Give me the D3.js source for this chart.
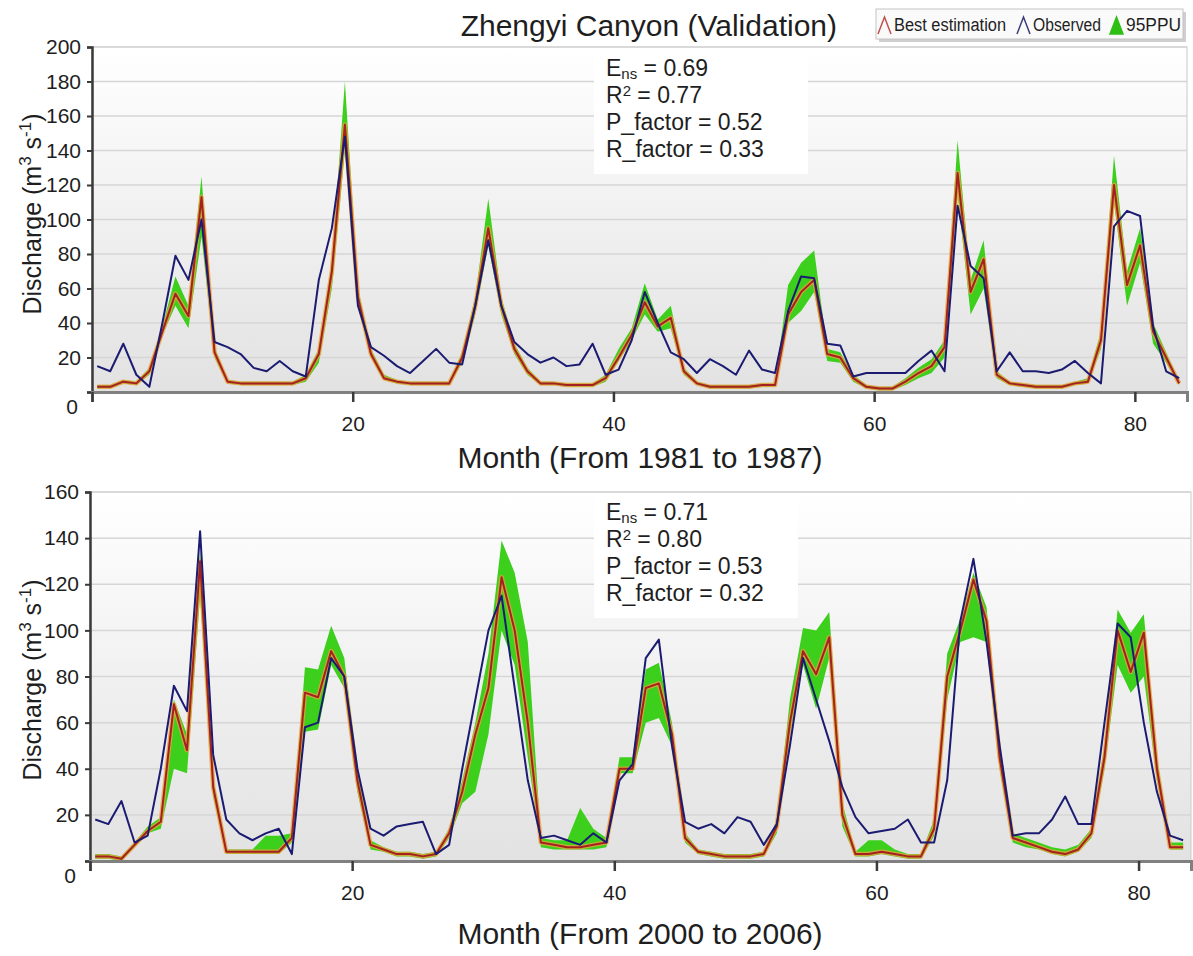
<!DOCTYPE html>
<html>
<head>
<meta charset="utf-8">
<script src="https://cdn.jsdelivr.net/npm/d3@7/dist/d3.min.js"></script>
<style>
  body { margin: 0; background: #fff; }
  svg text { font-family: "Liberation Sans", Arial, sans-serif; fill: #1e1e1e; }
</style>
</head>
<body>
<svg id="chart" width="1193" height="956"></svg>
<script>
// ---- data (84 months per period) ----
var xTicks = [0, 20, 40, 60, 80];

var obs1981 = [15,12,28,10,3,40,79,65,100,29, 26,22,14,12,18,12,9,65,95,148,
  50,26,21,15,11,18,25,17,16,50, 88,50,29,22,17,20,15,16,28,10,
  13,30,58,40,23,19,11,19,15,10, 24,13,11,47,67,66,28,27,9,11,
  11,11,11,18,24,12,108,73,66,12, 23,12,12,11,13,18,11,5,96,105,
  102,38,12,8];
var best1981 = [3,3,6,5,12,35,57,44,113,23, 6,5,5,5,5,5,8,22,70,155,
  55,22,8,6,5,5,5,5,20,50, 95,50,25,12,5,5,4,4,4,8,
  20,33,52,38,43,12,5,3,3,3, 3,4,4,45,58,65,22,20,8,3,
  2,2,6,11,15,26,127,58,77,10, 5,4,3,3,3,5,6,30,120,62,
  85,35,20,5];
var low1981 = [2,2,5,4,10,33,50,37,90,20, 5,4,4,4,4,4,6,17,60,140,
  50,20,7,5,4,4,4,4,17,45, 85,45,22,10,4,4,3,3,3,6,
  18,30,45,35,37,10,4,2,2,2, 2,3,3,40,47,58,18,17,6,2,
  1,1,4,8,11,20,115,45,60,8, 4,3,2,2,2,4,5,25,110,50,
  75,28,17,4];
var high1981 = [4,4,7,6,14,38,67,50,125,26, 7,6,6,6,6,6,10,25,75,180,
  60,25,10,7,6,6,6,6,23,55, 112,55,28,14,6,6,5,5,5,10,
  25,37,63,42,50,14,6,4,4,4, 4,5,5,62,75,82,25,23,10,4,
  3,3,8,14,19,30,146,65,88,12, 6,5,4,4,4,6,8,35,137,70,
  95,40,23,6];
var stats1981 = ["0.69", "0.77", "0.52", "0.33"];

var obs2000 = [18,16,26,8,11,40,76,65,143,46, 18,12,9,12,14,3,58,60,88,80,
  40,14,11,15,16,17,3,7,40,70, 100,115,75,35,10,11,9,7,12,8,
  35,42,88,96,50,17,14,16,12,19, 17,7,16,50,88,70,52,32,19,12,
  13,14,18,8,8,35,104,131,95,50, 11,12,12,18,28,16,16,60,103,97,
  60,30,11,9];
var best2000 = [2,2,1,7,13,17,68,48,130,32, 4,4,4,4,4,10,73,71,91,80,
  35,7,5,3,3,2,3,12,30,55, 75,123,100,60,8,7,6,6,7,8,
  40,40,75,77,55,10,4,3,2,2, 2,3,15,60,91,81,97,20,3,3,
  4,3,2,2,14,80,100,122,104,45, 10,8,6,4,3,5,12,45,100,82,
  99,40,6,6];
var low2000 = [1,1,0,6,12,14,40,38,115,28, 3,3,3,3,3,8,56,57,85,75,
  30,5,4,2,2,1,2,10,25,30, 55,100,85,45,6,5,5,5,5,6,
  38,38,60,62,50,8,3,2,1,1, 1,2,12,55,85,66,88,15,2,2,
  3,2,1,1,11,70,95,97,95,40, 8,6,5,3,2,4,10,40,85,73,
  80,35,5,5];
var high2000 = [3,3,2,8,15,19,70,55,135,36, 5,5,5,11,11,12,84,83,102,88,
  40,9,6,4,4,3,4,14,35,60, 90,139,125,95,10,9,9,23,14,10,
  45,45,83,86,60,12,5,4,3,3, 3,4,18,70,101,100,108,25,4,9,
  9,5,3,3,18,90,105,125,110,50, 12,10,8,6,5,7,14,50,109,99,
  107,45,8,8];
var stats2000 = ["0.71", "0.80", "0.53", "0.32"];

var svg = d3.select("#chart");

// plot background gradient
var defs = svg.append("defs");
var grad = defs.append("linearGradient").attr("id", "bg")
    .attr("x1", 0).attr("y1", 0).attr("x2", 0).attr("y2", 1);
grad.append("stop").attr("offset", "0%").attr("stop-color", "#ffffff");
grad.append("stop").attr("offset", "100%").attr("stop-color", "#e2e2e2");

function drawPanel(p) {
  var x = d3.scaleLinear().domain([0, 84]).range([p.left, p.right]);
  var y = d3.scaleLinear().domain([0, p.yMax]).range([p.bottom, p.top]);
  var g = svg.append("g");

  g.append("rect")
      .attr("x", p.left).attr("y", p.top)
      .attr("width", p.right - p.left).attr("height", p.bottom - p.top)
      .attr("fill", "url(#bg)")
      .attr("stroke", "#c9c9c9");

  // horizontal grid
  g.selectAll(".grid")
    .data(p.yTicks.filter(function(v) { return v > 0; }))
    .enter().append("line")
      .attr("x1", p.left).attr("x2", p.right)
      .attr("y1", function(d) { return y(d); })
      .attr("y2", function(d) { return y(d); })
      .attr("stroke", "#d6d6d6").attr("stroke-width", 1.5);

  // stats box
  g.append("rect")
      .attr("x", p.box[0]).attr("y", p.box[1])
      .attr("width", p.box[2]).attr("height", p.box[3])
      .attr("fill", "#fff");

  // 95PPU band
  var area = d3.area()
      .x(function(d, i) { return x(i + 0.4); })
      .y0(function(d, i) { return y(p.low[i]); })
      .y1(function(d, i) { return y(p.high[i]); });
  g.append("path").datum(p.best).attr("d", area)
      .attr("fill", "#3ccf1c");

  var line = d3.line()
      .x(function(d, i) { return x(i + 0.4); })
      .y(function(d) { return y(d); });

  // best estimation: orange halo + red line
  g.append("path").datum(p.best).attr("d", line)
      .attr("fill", "none").attr("stroke", "#e9a33c")
      .attr("stroke-width", 4.5).attr("stroke-opacity", 0.8)
      .attr("stroke-linejoin", "round");
  g.append("path").datum(p.best).attr("d", line)
      .attr("fill", "none").attr("stroke", "#a52020")
      .attr("stroke-width", 2).attr("stroke-linejoin", "round");
  // observed
  g.append("path").datum(p.obs).attr("d", line)
      .attr("fill", "none").attr("stroke", "#1b1b72")
      .attr("stroke-width", 2).attr("stroke-linejoin", "round");

  // axes
  var ya = g.append("g")
      .attr("transform", "translate(" + p.left + ",0)")
      .call(d3.axisLeft(y).tickValues(p.yTicks).tickSize(5).tickPadding(6));
  ya.select(".domain").attr("stroke", "#3a3a3a").attr("stroke-width", 2.5);
  ya.selectAll(".tick line").attr("stroke", "#3a3a3a").attr("stroke-width", 2);
  ya.selectAll("text").style("font-size", "21px").attr("fill", "#1e1e1e");
  ya.selectAll(".tick").filter(function(d) { return d === 0; })
      .select("text").attr("dy", "1.0em").attr("x", -14);

  var xa = g.append("g")
      .attr("transform", "translate(0," + p.bottom + ")")
      .call(d3.axisBottom(x).tickValues(xTicks).tickSize(10).tickPadding(14)
        .tickFormat(function(d) { return d === 0 ? "" : d; }));
  xa.select(".domain").attr("stroke", "#808080").attr("stroke-width", 3);
  xa.selectAll(".tick line").attr("stroke", "#3a3a3a").attr("stroke-width", 2.5);
  xa.selectAll("text").style("font-size", "21px").attr("fill", "#1e1e1e");

  // axis titles
  g.append("text")
      .attr("x", 640).attr("y", p.xLabelY)
      .attr("text-anchor", "middle").style("font-size", "30px")
      .text(p.xLabel);

  var yl = g.append("text")
      .attr("transform", "translate(41," + p.yLabelMid + ") rotate(-90)")
      .attr("text-anchor", "middle").style("font-size", "25px");
  yl.append("tspan").text("Discharge (m");
  yl.append("tspan").attr("dy", -10).style("font-size", "17px").text("3");
  yl.append("tspan").attr("dy", 10).text(" s");
  yl.append("tspan").attr("dy", -10).style("font-size", "17px").text("-1");
  yl.append("tspan").attr("dy", 10).text(")");

  // stats text
  var sx = p.box[0] + 12, sy = p.box[1] + 26, lh = 27;
  var t1 = g.append("text").attr("x", sx).attr("y", sy).style("font-size", "23px");
  t1.append("tspan").text("E");
  t1.append("tspan").attr("dy", 3).style("font-size", "15px").text("ns");
  t1.append("tspan").attr("dy", -3).text(" = " + p.stats[0]);
  var t2 = g.append("text").attr("x", sx).attr("y", sy + lh).style("font-size", "23px");
  t2.append("tspan").text("R");
  t2.append("tspan").attr("dy", -7).style("font-size", "15px").text("2");
  t2.append("tspan").attr("dy", 7).text(" = " + p.stats[1]);
  g.append("text").attr("x", sx).attr("y", sy + 2 * lh).style("font-size", "23px")
      .text("P_factor = " + p.stats[2]);
  g.append("text").attr("x", sx).attr("y", sy + 3 * lh).style("font-size", "23px")
      .text("R_factor = " + p.stats[3]);
}

drawPanel({
  left: 92, right: 1187, top: 47, bottom: 392, yMax: 200,
  yTicks: d3.range(0, 201, 20),
  obs: obs1981, best: best1981, low: low1981, high: high1981,
  stats: stats1981, box: [594, 50, 214, 124],
  xLabel: "Month (From 1981 to 1987)", xLabelY: 468, yLabelMid: 214
});

drawPanel({
  left: 90, right: 1191, top: 492, bottom: 861, yMax: 160,
  yTicks: d3.range(0, 161, 20),
  obs: obs2000, best: best2000, low: low2000, high: high2000,
  stats: stats2000, box: [594, 494, 204, 124],
  xLabel: "Month (From 2000 to 2006)", xLabelY: 944, yLabelMid: 680
});

// title
svg.append("text")
    .attr("x", 837).attr("y", 36)
    .attr("text-anchor", "end").style("font-size", "30px")
    .text("Zhengyi Canyon (Validation)");

// legend
var lg = svg.append("g");
lg.append("rect").attr("x", 879).attr("y", 12).attr("width", 307).attr("height", 30)
    .attr("fill", "#cfcfcf");
lg.append("rect").attr("x", 876).attr("y", 9).attr("width", 307).attr("height", 30)
    .attr("fill", "#fafafa").attr("stroke", "#c4c4c4");
var legendItems = [
  {label: "Best estimation", color: "#c0504d", x: 878, w: 112, filled: false},
  {label: "Observed", color: "#3b3b7a", x: 1017, w: 68, filled: false},
  {label: "95PPU", color: "#2fbf14", x: 1110, w: 55, filled: true}
];
legendItems.forEach(function(d) {
  var tri = "M" + d.x + ",34 L" + (d.x + 6.5) + ",17 L" + (d.x + 13) + ",34";
  lg.append("path").attr("d", d.filled ? tri + " Z" : tri)
      .attr("fill", d.filled ? d.color : "none")
      .attr("stroke", d.color).attr("stroke-width", 1.5);
  lg.append("text").attr("x", d.x + 16).attr("y", 31)
      .attr("textLength", d.w).attr("lengthAdjust", "spacingAndGlyphs")
      .style("font-size", "18px").attr("fill", "#333")
      .text(d.label);
});
</script>
</body>
</html>
